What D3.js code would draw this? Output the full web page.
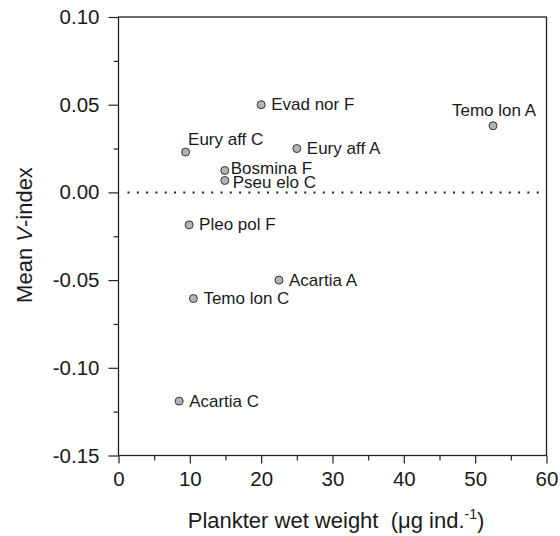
<!DOCTYPE html>
<html>
<head>
<meta charset="utf-8">
<script src="https://cdn.jsdelivr.net/npm/d3@7"></script>
<style>
  body { margin: 0; background: #fff; }
  text { font-family: "Liberation Sans", Arial, sans-serif; fill: #1a1a1a; }
</style>
</head>
<body>
<div id="chart"></div>
<script>
// data
const names = ["Evad nor F", "Eury aff C", "Eury aff A", "Bosmina F", "Pseu elo C",
               "Temo lon A", "Pleo pol F", "Acartia A", "Temo lon C", "Acartia C"];
const weight = [20.0, 9.4, 25.0, 14.9, 14.9, 52.5, 9.9, 22.5, 10.5, 8.5];
const vIndex = [0.050, 0.023, 0.025, 0.0125, 0.0068, 0.038, -0.0185, -0.050, -0.0605, -0.119];
const xTicks = [0, 10, 20, 30, 40, 50, 60];
const yTicks = [0.10, 0.05, 0.00, -0.05, -0.10, -0.15];

const W = 560, H = 536;
const svg = d3.select("#chart").append("svg")
    .attr("width", W)
    .attr("height", H);

const x = d3.scaleLinear().domain([0, 60]).range([118.5, 546.5]);
const y = d3.scaleLinear().domain([-0.15, 0.10]).range([455.5, 17]);

// label tweaks so text doesn't collide (dx, dy in px, anchor)
const labelOff = {
    "Eury aff C": {dx: 2.5, dy: -7, anchor: "start"},
    "Bosmina F": {dx: 6, dy: 4, anchor: "start"},
    "Pseu elo C": {dx: 8, dy: 7.5, anchor: "start"},
    "Temo lon A": {dx: 1, dy: -10, anchor: "middle"}
};

// box
svg.append("rect")
    .attr("x", x(0))
    .attr("y", y(0.10))
    .attr("width", x(60) - x(0))
    .attr("height", y(-0.15) - y(0.10))
    .style("fill", "none")
    .style("stroke", "#222")
    .style("stroke-width", 1.3);

// axes
const xAxis = svg.append("g")
    .attr("transform", `translate(0, ${y(-0.15)})`)
    .call(d3.axisBottom(x).tickValues(xTicks).tickSize(8).tickPadding(8).tickFormat(d3.format("d")));
svg.append("g")
    .attr("transform", `translate(0, ${y(-0.15)})`)
    .call(d3.axisBottom(x).tickValues(d3.range(5, 60, 10)).tickSize(5).tickFormat(""));

const yFmt = d => d3.format(".2f")(d).replace("\u2212", "-");
const yAxis = svg.append("g")
    .attr("transform", `translate(${x(0)}, 0)`)
    .call(d3.axisLeft(y).tickValues(yTicks).tickSize(10).tickPadding(9).tickFormat(yFmt));
svg.append("g")
    .attr("transform", `translate(${x(0)}, 0)`)
    .call(d3.axisLeft(y).tickValues([0.075, 0.025, -0.025, -0.075, -0.125]).tickSize(5).tickFormat(""));

svg.selectAll(".domain").remove();
svg.selectAll(".tick line").style("stroke", "#222").style("stroke-width", 1.2);
xAxis.selectAll("text").style("font-size", "20.5px").style("fill", "#1a1a1a");
yAxis.selectAll("text").style("font-size", "20.5px").style("fill", "#1a1a1a");

// dotted zero line
svg.append("line")
    .attr("x1", x(0) + 9)
    .attr("x2", x(60) - 2)
    .attr("y1", y(0))
    .attr("y2", y(0))
    .style("stroke", "#222")
    .style("stroke-width", 2)
    .style("stroke-dasharray", "2 7.3");

// points
const pts = names.map((n, i) => ({name: n, w: weight[i], v: vIndex[i]}));

svg.selectAll("circle.pt")
    .data(pts)
    .join("circle")
    .attr("class", "pt")
    .attr("cx", d => x(d.w))
    .attr("cy", d => y(d.v))
    .attr("r", 4)
    .style("fill", "#b4b4b4")
    .style("stroke", "#333")
    .style("stroke-width", 1);

svg.selectAll("text.lbl")
    .data(pts)
    .join("text")
    .attr("class", "lbl")
    .attr("x", d => x(d.w) + (labelOff[d.name] ? labelOff[d.name].dx : 10))
    .attr("y", d => y(d.v) + (labelOff[d.name] ? labelOff[d.name].dy : 5.5))
    .attr("text-anchor", d => labelOff[d.name] ? labelOff[d.name].anchor : "start")
    .style("font-size", "17px")
    .text(d => d.name);

// axis titles
const xt = svg.append("text")
    .attr("x", 336)
    .attr("y", 528)
    .attr("text-anchor", "middle")
    .style("font-size", "22px");
xt.append("tspan").text("Plankter wet weight\u00a0 (\u03bcg ind.");
xt.append("tspan").text("-1").attr("dy", -9).style("font-size", "14px");
xt.append("tspan").text(")").attr("dy", 9);

const yt = svg.append("text")
    .attr("transform", "translate(32, 235) rotate(-90)")
    .attr("text-anchor", "middle")
    .style("font-size", "22px");
yt.append("tspan").text("Mean ");
yt.append("tspan").text("V").style("font-style", "italic");
yt.append("tspan").text("-index");
</script>
</body>
</html>
